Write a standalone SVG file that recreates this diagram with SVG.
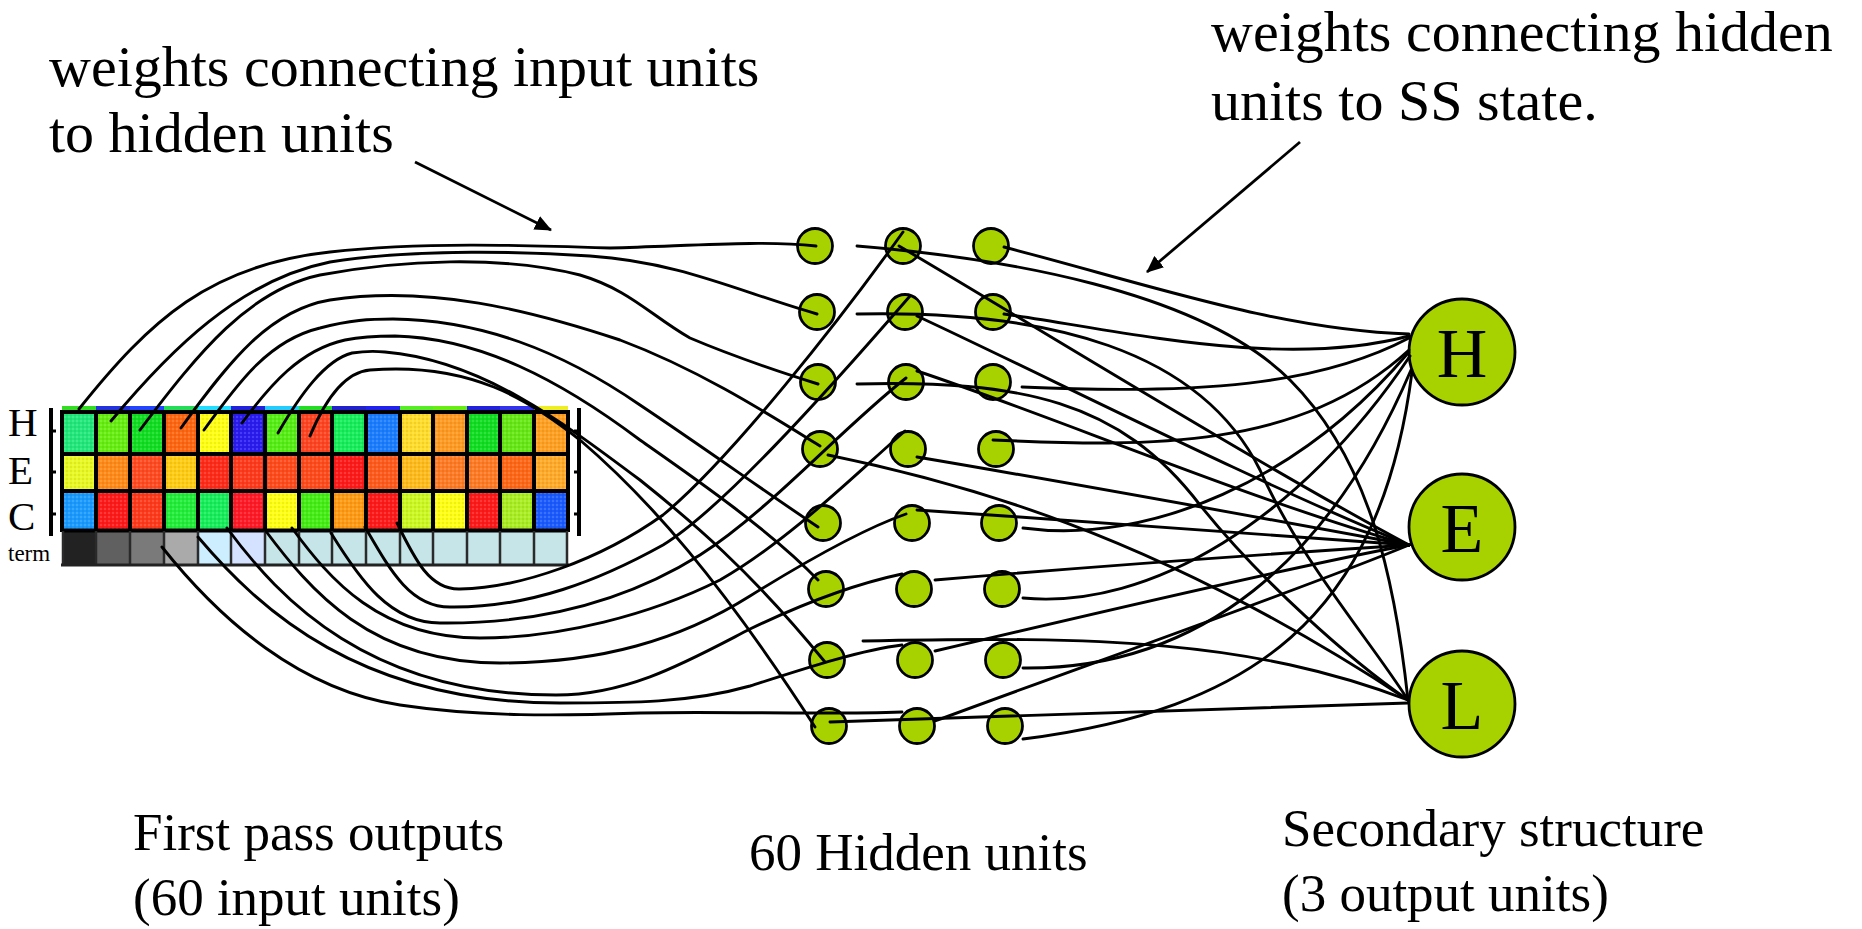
<svg xmlns="http://www.w3.org/2000/svg" width="1862" height="929" viewBox="0 0 1862 929">
<style>
text{font-family:"Liberation Serif","Times New Roman",serif;fill:#000}
.big{font-size:58px}
.lab{font-size:53px}
.w{fill:none;stroke:#000;stroke-width:2.9;stroke-linecap:round}
.hid{fill:#a8d100;stroke:#000;stroke-width:2.8}
.out{fill:#a8d100;stroke:#000;stroke-width:2.8}
.otx{font-size:70px;text-anchor:middle}
.gl{stroke:#000;stroke-width:4}
.tl{stroke:#2a2a2a;stroke-width:2.5}
.ann{fill:none;stroke:#000;stroke-width:2.8}
.rl{font-size:41px}
</style>
<defs>
<marker id="ah" markerUnits="userSpaceOnUse" markerWidth="17" markerHeight="15" refX="16" refY="7.5" orient="auto">
<path d="M0,0 L17,7.5 L0,15 z" fill="#000"/>
</marker>
<pattern id="dither" width="4" height="4" patternUnits="userSpaceOnUse">
<rect x="0" y="0" width="2" height="2" fill="#fff" fill-opacity="0.14"/>
<rect x="2" y="2" width="2" height="2" fill="#000" fill-opacity="0.06"/>
</pattern>
</defs>
<rect width="1862" height="929" fill="#fff"/>

<g id="texts">
<text class="big" x="49" y="86">weights connecting input units</text>
<text class="big" x="49" y="152">to hidden units</text>
<text class="big" x="1211" y="51">weights connecting hidden</text>
<text class="big" x="1211" y="120">units to SS state.</text>
<text class="lab" x="133" y="850">First pass outputs</text>
<text class="lab" x="133" y="915">(60 input units)</text>
<text class="lab" x="749" y="870">60 Hidden units</text>
<text class="lab" x="1282" y="846">Secondary structure</text>
<text class="lab" x="1282" y="911">(3 output units)</text>
</g>

<g id="input-grid">
<g id="strip">
<rect x="62" y="406" width="34" height="6" fill="#33dd22"/><rect x="96" y="406" width="34" height="6" fill="#2233dd"/><rect x="130" y="406" width="34" height="6" fill="#2244ff"/><rect x="164" y="406" width="34" height="6" fill="#22dd55"/><rect x="198" y="406" width="33" height="6" fill="#22ddff"/><rect x="231" y="406" width="34" height="6" fill="#2222dd"/><rect x="265" y="406" width="34" height="6" fill="#22ccff"/><rect x="299" y="406" width="33" height="6" fill="#22dd22"/><rect x="332" y="406" width="34" height="6" fill="#2222cc"/><rect x="366" y="406" width="34" height="6" fill="#2222ee"/><rect x="400" y="406" width="33" height="6" fill="#55ee22"/><rect x="433" y="406" width="34" height="6" fill="#66ee11"/><rect x="467" y="406" width="33" height="6" fill="#2222dd"/><rect x="500" y="406" width="34" height="6" fill="#3333ee"/><rect x="534" y="406" width="34" height="6" fill="#eeee22"/>
</g>
<g id="row-H">
<rect x="62" y="412" width="34" height="42" fill="#22e87a"/><rect x="96" y="412" width="34" height="42" fill="#66ee11"/><rect x="130" y="412" width="34" height="42" fill="#11dd22"/><rect x="164" y="412" width="34" height="42" fill="#ff6611"/><rect x="198" y="412" width="33" height="42" fill="#ffff14"/><rect x="231" y="412" width="34" height="42" fill="#2a1cee"/><rect x="265" y="412" width="34" height="42" fill="#55ee14"/><rect x="299" y="412" width="33" height="42" fill="#ff4422"/><rect x="332" y="412" width="34" height="42" fill="#16ee5a"/><rect x="366" y="412" width="34" height="42" fill="#1a7cff"/><rect x="400" y="412" width="33" height="42" fill="#ffdd2a"/><rect x="433" y="412" width="34" height="42" fill="#ff9a22"/><rect x="467" y="412" width="33" height="42" fill="#11dd22"/><rect x="500" y="412" width="34" height="42" fill="#66e815"/><rect x="534" y="412" width="34" height="42" fill="#ffa022"/>
</g>
<g id="row-E">
<rect x="62" y="454" width="34" height="37" fill="#e8f822"/><rect x="96" y="454" width="34" height="37" fill="#ff8a18"/><rect x="130" y="454" width="34" height="37" fill="#ff4a22"/><rect x="164" y="454" width="34" height="37" fill="#ffcc14"/><rect x="198" y="454" width="33" height="37" fill="#ff2a18"/><rect x="231" y="454" width="34" height="37" fill="#ff3a1c"/><rect x="265" y="454" width="34" height="37" fill="#ff4a1c"/><rect x="299" y="454" width="33" height="37" fill="#ff4a1c"/><rect x="332" y="454" width="34" height="37" fill="#ff1a1a"/><rect x="366" y="454" width="34" height="37" fill="#ff5a1c"/><rect x="400" y="454" width="33" height="37" fill="#ffbb1c"/><rect x="433" y="454" width="34" height="37" fill="#ff7a24"/><rect x="467" y="454" width="33" height="37" fill="#ff7a24"/><rect x="500" y="454" width="34" height="37" fill="#ff6616"/><rect x="534" y="454" width="34" height="37" fill="#ffaa28"/>
</g>
<g id="row-C">
<rect x="62" y="491" width="34" height="40" fill="#1a9aff"/><rect x="96" y="491" width="34" height="40" fill="#ff1a1a"/><rect x="130" y="491" width="34" height="40" fill="#ff3a1c"/><rect x="164" y="491" width="34" height="40" fill="#22ee3a"/><rect x="198" y="491" width="33" height="40" fill="#16ee5a"/><rect x="231" y="491" width="34" height="40" fill="#ff1a26"/><rect x="265" y="491" width="34" height="40" fill="#ffff14"/><rect x="299" y="491" width="33" height="40" fill="#44ee14"/><rect x="332" y="491" width="34" height="40" fill="#ff9a14"/><rect x="366" y="491" width="34" height="40" fill="#ff1a1a"/><rect x="400" y="491" width="33" height="40" fill="#ccf822"/><rect x="433" y="491" width="34" height="40" fill="#ffff14"/><rect x="467" y="491" width="33" height="40" fill="#ff1a1a"/><rect x="500" y="491" width="34" height="40" fill="#a8ee22"/><rect x="534" y="491" width="34" height="40" fill="#1a5aff"/>
</g>
<rect id="texture" x="62" y="412" width="506" height="119" fill="url(#dither)"/>
<g id="row-term">
<rect x="62" y="531" width="34" height="34" fill="#222222"/><rect x="96" y="531" width="34" height="34" fill="#606060"/><rect x="130" y="531" width="34" height="34" fill="#7a7a7a"/><rect x="164" y="531" width="34" height="34" fill="#aaaaaa"/><rect x="198" y="531" width="33" height="34" fill="#cceeff"/><rect x="231" y="531" width="34" height="34" fill="#d4e2ff"/><rect x="265" y="531" width="303" height="34" fill="#c6e5e8"/>
</g>
<g id="grid-lines">
<path class="gl" d="M60,412 H570 M62,454 H568 M62,491 H568 M62,530.5 H568"/>
<path class="gl" d="M62,410 V532 M96,410 V532 M130,410 V532 M164,410 V532 M198,410 V532 M231,410 V532 M265,410 V532 M299,410 V532 M332,410 V532 M366,410 V532 M400,410 V532 M433,410 V532 M467,410 V532 M500,410 V532 M534,410 V532 M568,410 V532"/>
<path class="tl" d="M63,531 V566 M96,531 V566 M130,531 V566 M164,531 V566 M198,531 V566 M231,531 V566 M265,531 V566 M299,531 V566 M332,531 V566 M366,531 V566 M400,531 V566 M433,531 V566 M467,531 V566 M500,531 V566 M534,531 V566 M567,531 V566"/>
<path d="M61,565 H569" stroke="#222" stroke-width="3"/>
</g>
<g id="brackets">
<path d="M51,408 V536 M579,408 V536" stroke="#000" stroke-width="4"/>
<path d="M51,431 H56 M51,472 H56 M51,514 H56 M574,431 H579 M574,472 H579 M574,514 H579" stroke="#000" stroke-width="3"/>
</g>
<text class="rl" x="8" y="436">H</text>
<text class="rl" x="8" y="484">E</text>
<text class="rl" x="8" y="530">C</text>
<text x="8" y="561" font-size="23">term</text>
</g>

<g id="hidden-units">
<circle id="h1-1" class="hid" cx="815" cy="246" r="17.5"/>
<circle id="h1-2" class="hid" cx="817" cy="312" r="17.5"/>
<circle id="h1-3" class="hid" cx="818" cy="382" r="17.5"/>
<circle id="h1-4" class="hid" cx="820" cy="449" r="17.5"/>
<circle id="h1-5" class="hid" cx="823" cy="523" r="17.5"/>
<circle id="h1-6" class="hid" cx="826" cy="589" r="17.5"/>
<circle id="h1-7" class="hid" cx="827" cy="660" r="17.5"/>
<circle id="h1-8" class="hid" cx="829" cy="726" r="17.5"/>
<circle id="h2-1" class="hid" cx="903" cy="246" r="17.5"/>
<circle id="h2-2" class="hid" cx="905" cy="312" r="17.5"/>
<circle id="h2-3" class="hid" cx="906" cy="382" r="17.5"/>
<circle id="h2-4" class="hid" cx="908" cy="449" r="17.5"/>
<circle id="h2-5" class="hid" cx="912" cy="523" r="17.5"/>
<circle id="h2-6" class="hid" cx="914" cy="589" r="17.5"/>
<circle id="h2-7" class="hid" cx="915" cy="660" r="17.5"/>
<circle id="h2-8" class="hid" cx="917" cy="726" r="17.5"/>
<circle id="h3-1" class="hid" cx="991" cy="246" r="17.5"/>
<circle id="h3-2" class="hid" cx="993" cy="312" r="17.5"/>
<circle id="h3-3" class="hid" cx="993" cy="382" r="17.5"/>
<circle id="h3-4" class="hid" cx="996" cy="449" r="17.5"/>
<circle id="h3-5" class="hid" cx="999" cy="523" r="17.5"/>
<circle id="h3-6" class="hid" cx="1002" cy="589" r="17.5"/>
<circle id="h3-7" class="hid" cx="1003" cy="660" r="17.5"/>
<circle id="h3-8" class="hid" cx="1005" cy="726" r="17.5"/>
</g>

<g id="out-H"><circle class="out" cx="1462" cy="352" r="53"/><text class="otx" x="1462" y="377">H</text></g>
<g id="out-E"><circle class="out" cx="1462" cy="527" r="53"/><text class="otx" x="1462" y="552">E</text></g>
<g id="out-L"><circle class="out" cx="1462" cy="704" r="53"/><text class="otx" x="1462" y="729">L</text></g>

<g id="connectors">
<g id="input-to-hidden">
<path class="w" d="M79,409 C150,320 210,265 330,252 C420,242 520,245 610,248 C690,246 760,240 816,246"/>
<path class="w" d="M111,421 C170,350 240,280 330,262 C420,248 530,252 590,256 C680,262 740,292 817,314"/>
<path class="w" d="M140,430 C200,350 250,290 320,275 C400,260 500,255 580,275 C630,290 650,315 690,338 C730,355 780,372 818,384"/>
<path class="w" d="M181,428 C230,360 270,310 330,300 C430,285 530,310 620,340 C700,370 770,415 820,446"/>
<path class="w" d="M204,430 C240,380 270,340 320,328 C350,320 370,319 393,319 C480,320 560,350 640,405 C700,445 770,495 818,527"/>
<path class="w" d="M242,423 C270,385 300,350 345,340 C360,337 380,336 395,336 C480,338 560,380 640,440 C690,475 770,530 818,580"/>
<path class="w" d="M278,433 C300,395 325,360 352,353 C365,351 375,351 385,352 C480,360 560,420 640,480 C690,520 750,570 825,662"/>
<path class="w" d="M310,436 C325,400 345,372 370,370 C470,362 530,400 580,440 C650,500 720,580 815,727"/>
<path class="w" d="M397,523 C415,560 430,590 460,589 C520,588 600,560 663,515 C730,460 840,320 903,232"/>
<path class="w" d="M365,527 C390,570 410,607 450,607 C530,608 600,580 663,545 C720,510 820,400 910,296"/>
<path class="w" d="M331,533 C360,580 390,623 440,623 C530,624 620,605 700,555 C770,510 840,430 906,378"/>
<path class="w" d="M292,528 C330,580 380,638 480,638 C560,638 650,615 720,580 C790,540 860,470 905,431"/>
<path class="w" d="M265,530 C310,590 370,663 500,663 C600,663 680,640 750,596 C800,565 860,530 906,514"/>
<path class="w" d="M227,528 C280,600 370,695 556,695 C630,695 690,660 750,629 C800,605 850,585 902,574"/>
<path class="w" d="M198,537 C260,610 360,703 560,703 C630,703 690,703 750,686 C800,670 860,650 902,645"/>
<path class="w" d="M162,547 C220,620 300,690 400,705 C480,717 560,716 640,713 C720,711 820,715 902,712"/>
</g>
<g id="hidden-to-H">
<path class="w" d="M1004,247 C1150,285 1280,330 1409,334"/>
<path class="w" d="M1004,314 C1120,330 1280,370 1409,336"/>
<path class="w" d="M1022,387 C1200,395 1320,385 1409,338"/>
<path class="w" d="M993,440 C1150,447 1300,450 1409,350"/>
<path class="w" d="M1023,528 C1150,545 1300,480 1409,352"/>
<path class="w" d="M1023,598 C1150,610 1300,520 1410,356"/>
<path class="w" d="M1023,668 C1200,670 1330,560 1411,370"/>
<path class="w" d="M1023,739 C1250,710 1380,620 1412,372"/>
</g>
<g id="hidden-to-E">
<path class="w" d="M899,246 C1000,305 1250,460 1409,545"/>
<path class="w" d="M917,316 C1050,378 1250,480 1409,545"/>
<path class="w" d="M917,371 C1050,415 1250,500 1409,545"/>
<path class="w" d="M917,457 C1100,488 1300,525 1409,545"/>
<path class="w" d="M917,510 C1100,522 1300,538 1409,545"/>
<path class="w" d="M935,580 C1100,566 1300,552 1409,545"/>
<path class="w" d="M935,651 C1100,612 1300,565 1409,545"/>
<path class="w" d="M935,721 C1100,660 1300,590 1409,545"/>
</g>
<g id="hidden-to-L">
<path class="w" d="M857,246 C1000,258 1200,290 1290,380 C1370,460 1395,580 1408,700"/>
<path class="w" d="M857,314 C1050,310 1200,350 1260,470 C1300,560 1370,640 1408,700"/>
<path class="w" d="M857,384 C1020,380 1120,400 1200,505 C1260,580 1350,660 1408,700"/>
<path class="w" d="M828,455 C950,480 1150,530 1408,700"/>
<path class="w" d="M863,641 C1100,636 1250,640 1408,700"/>
<path class="w" d="M830,722 L1408,703"/>
</g>
<g id="annotation-arrows">
<path class="ann" d="M415,162 L551,230" marker-end="url(#ah)"/>
<path class="ann" d="M1300,142 L1147,272" marker-end="url(#ah)"/>
</g>
</g>
</svg>
